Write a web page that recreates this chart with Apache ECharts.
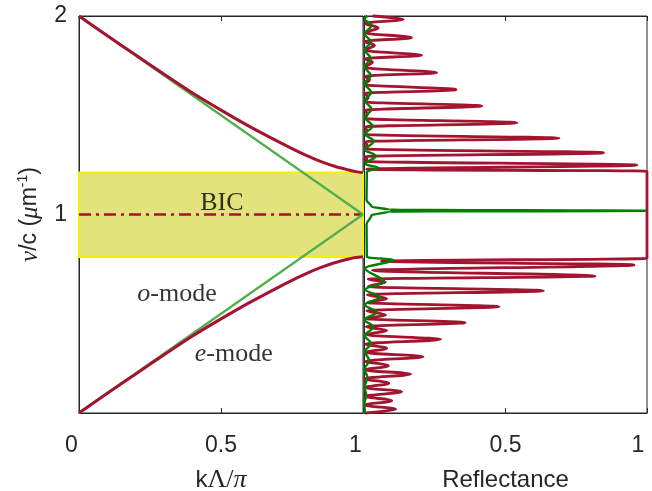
<!DOCTYPE html>
<html><head><meta charset="utf-8">
<script src="https://cdn.jsdelivr.net/npm/echarts@6/dist/echarts.min.js"></script>
<style>html,body{margin:0;padding:0;background:#fff}#c{width:652px;height:491px}</style>
</head><body><div id="c"></div>
<script>
// ---------- data: left panel (dispersion) ----------
const kVals   = [0, 0.1, 0.2, 0.3, 0.4, 0.5, 0.6, 0.7, 0.75, 0.8, 0.85, 0.9, 0.95, 0.975, 1.0];
const eLower  = [0, 0.099, 0.197, 0.294, 0.388, 0.474, 0.556, 0.632, 0.668, 0.702, 0.732, 0.757, 0.776, 0.783, 0.787];
const eUpper  = [2, 1.901, 1.803, 1.706, 1.612, 1.526, 1.444, 1.368, 1.332, 1.298, 1.268, 1.243, 1.224, 1.216, 1.211];
const oModeK     = [0, 1];
const oModeLower = [0, 1];
const oModeUpper = [2, 1];
const bicK  = [0, 1];
const bicNu = [1, 1];
const bandLow = 0.786, bandHigh = 1.211;
const annText = ['BIC', 'o-mode', 'e-mode'];
const annK    = [0.503, 0.345, 0.545];
const annNu   = [1.058, 0.598, 0.296];

// ---------- data: right panel (reflectance) ----------
const eRefNu = [0.000,0.019,0.040,0.062,0.084,0.107,0.128,0.150,0.173,0.196,0.217,0.238,0.261,0.284,0.305,0.326,0.348,0.371,0.394,0.416,0.435,0.455,0.475,0.494,0.515,0.536,0.556,0.576,0.596,0.616,0.637,0.659,0.674,0.690,0.718,0.746,0.765,0.779,
  1.218,1.228,1.249,1.268,1.280,1.292,1.311,1.331,1.350,1.367,1.384,1.404,1.423,1.442,1.462,1.484,1.505,1.526,1.547,1.568,1.590,1.610,1.629,1.654,1.679,1.697,1.714,1.741,1.768,1.785,1.802,1.827,1.852,1.872,1.891,1.915,1.940,1.962,1.983,2.000];
const eRefR  = [0.004,0.112,0.004,0.098,0.004,0.133,0.004,0.088,0.004,0.165,0.005,0.086,0.005,0.209,0.006,0.080,0.006,0.271,0.008,0.080,0.008,0.357,0.010,0.076,0.010,0.477,0.012,0.080,0.012,0.634,0.015,0.075,0.015,0.816,0.030,0.954,0.062,1.000,
  1.000,0.010,0.964,0.006,0.010,0.006,0.846,0.005,0.010,0.005,0.689,0.004,0.010,0.004,0.540,0.004,0.012,0.004,0.416,0.003,0.015,0.003,0.325,0.003,0.020,0.003,0.257,0.003,0.030,0.003,0.204,0.003,0.037,0.003,0.168,0.003,0.050,0.003,0.139,0.030];
const oRefNu = [0.000,0.050,0.090,0.130,0.180,0.220,0.265,0.310,0.350,0.390,0.433,0.470,0.508,0.545,0.584,0.622,0.661,0.729,0.772,0.785,0.950,0.997,1.0145,1.019,1.024,1.039,1.073,1.215,1.235,1.255,1.295,1.325,1.370,1.405,1.445,1.490,1.530,1.575,1.615,1.660,1.700,1.745,1.785,1.830,1.869,1.910,1.953,1.985,2.000];
const oRefR  = [0.003,0.002,0.008,0.002,0.012,0.002,0.018,0.003,0.025,0.003,0.033,0.003,0.045,0.003,0.057,0.004,0.072,0.004,0.104,0.010,0.009,0.027,0.090,1.000,0.090,0.027,0.009,0.010,0.050,0.005,0.042,0.004,0.035,0.003,0.030,0.003,0.027,0.003,0.025,0.002,0.024,0.002,0.024,0.002,0.025,0.002,0.027,0.002,0.012];

// ---------- build ----------
const pairs = (xs, ys) => xs.map((x, i) => [x, ys[i]]);
const pairsRev = (rs, nus) => rs.map((r, i) => [r, nus[i]]);
const AX = '#262626';
const SANS = 'Liberation Sans, Arial, Helvetica, sans-serif';
const SERIF = 'Liberation Serif, Times New Roman, serif';
const RED = '#a2142f';
const GREEN_L = '#52ad4b';
const GREEN_R = '#008000';
const TXT = '#000000';

const tickLbl = {color: AX, fontSize: 23, fontFamily: SANS};

function xAxisBase(grid) {
  return {
    gridIndex: grid, type: 'value', min: 0, max: 1, interval: 0.5,
    axisLine: {show: true, onZero: false, lineStyle: {color: AX, width: 1}},
    axisTick: {show: true, inside: true, length: 5, lineStyle: {color: AX, width: 1}},
    splitLine: {show: false}
  };
}

const chart = echarts.init(document.getElementById('c'), null, {renderer: 'canvas'});
const option = {
  animation: false,
  backgroundColor: '#ffffff',
  grid: [
    {left: 79, top: 16, width: 284, height: 397, show: true, borderColor: AX, borderWidth: 1, backgroundColor: 'transparent',
     containLabel: false, outerBoundsMode: 'none'},
    {left: 364, top: 16, width: 283, height: 397, show: true, borderColor: AX, borderWidth: 1, backgroundColor: 'transparent',
     containLabel: false, outerBoundsMode: 'none'}
  ],
  xAxis: [
    Object.assign(xAxisBase(0), {
      position: 'bottom',
      axisLabel: {show: true, margin: 21, showMinLabel: true, showMaxLabel: true, ...tickLbl,
        formatter: v => (v === 0 ? '{s|0}' : v === 1 ? '{s|1}' : '{c|0.5}'),
        rich: {s: {...tickLbl, padding: [0, 15, 0, 0]}, c: {...tickLbl}}},
      name: '{k|k}{g|Λ/}{i|π}', nameLocation: 'middle', nameGap: 54,
      nameTextStyle: {color: AX, rich: {
        k: {fontFamily: SANS, fontSize: 24, color: AX},
        g: {fontFamily: SERIF, fontSize: 26, color: AX},
        i: {fontFamily: SERIF, fontSize: 26, fontStyle: 'italic', color: AX}}}
    }),
    Object.assign(xAxisBase(1), {
      position: 'bottom',
      axisLabel: {show: true, margin: 21, showMinLabel: true, showMaxLabel: true, ...tickLbl,
        formatter: v => (v === 0 ? '' : v === 1 ? '{s|1}' : '{c|0.5}'),
        rich: {s: {...tickLbl, padding: [0, 18, 0, 0]}, c: {...tickLbl}}},
      name: 'Reflectance', nameLocation: 'middle', nameGap: 55,
      nameTextStyle: {color: AX, fontFamily: SANS, fontSize: 24}
    }),
    Object.assign(xAxisBase(0), {position: 'top', axisLabel: {show: false}}),
    Object.assign(xAxisBase(1), {position: 'top', axisLabel: {show: false}})
  ],
  yAxis: [
    {gridIndex: 0, type: 'value', min: 0, max: 2, interval: 1, position: 'left',
     axisLine: {show: true, onZero: false, lineStyle: {color: AX, width: 1}},
     axisTick: {show: true, inside: true, length: 5, lineStyle: {color: AX}},
     splitLine: {show: false},
     axisLabel: {show: true, margin: 12, ...tickLbl, formatter: v => (v === 0 ? '' : String(v))},
     name: '{g|ν}{s|/c (}{g|μ}{s|m}{p|-1}{s|)}', nameLocation: 'middle', nameRotate: 90, nameGap: 35,
     nameTextStyle: {color: AX, rich: {
       g: {fontFamily: SERIF, fontSize: 25, fontStyle: 'italic', color: AX, lineHeight: 28},
       s: {fontFamily: SANS, fontSize: 23, color: AX, lineHeight: 28},
       p: {fontFamily: SANS, fontSize: 14, color: AX, verticalAlign: 'top', lineHeight: 16}}}},
    {gridIndex: 1, type: 'value', min: 0, max: 2, interval: 1, position: 'left',
     axisLine: {show: true, onZero: false, lineStyle: {color: AX, width: 1}},
     axisTick: {show: false}, splitLine: {show: false}, axisLabel: {show: false}}
  ],
  series: [
    {type: 'line', xAxisIndex: 0, yAxisIndex: 0, data: pairs(bicK, bicNu), symbol: 'none', z: 3,
     lineStyle: {color: RED, width: 2.5, type: [12, 5, 3, 5]},
     markArea: {silent: true, z: 1,
       itemStyle: {color: '#e3e37d', borderColor: '#f2f200', borderWidth: 2},
       data: [[{xAxis: 0, yAxis: bandLow}, {xAxis: 1, yAxis: bandHigh}]]}},
    {type: 'line', xAxisIndex: 0, yAxisIndex: 0, data: pairs(oModeK, oModeLower), symbol: 'none', z: 4, clip: false,
     lineStyle: {color: GREEN_L, width: 2.2}},
    {type: 'line', xAxisIndex: 0, yAxisIndex: 0, data: pairs(oModeK, oModeUpper), symbol: 'none', z: 4, clip: false,
     lineStyle: {color: GREEN_L, width: 2.2}},
    {type: 'line', xAxisIndex: 0, yAxisIndex: 0, data: pairs(kVals, eLower), symbol: 'none', z: 5, clip: false,
     smooth: 0.3, lineStyle: {color: RED, width: 3}},
    {type: 'line', xAxisIndex: 0, yAxisIndex: 0, data: pairs(kVals, eUpper), symbol: 'none', z: 5, clip: false,
     smooth: 0.3, lineStyle: {color: RED, width: 3}},
    {type: 'scatter', xAxisIndex: 0, yAxisIndex: 0, symbolSize: 0, silent: true, z: 6,
     data: annText.map((t, i) => ({value: [annK[i], annNu[i]], name: t})),
     label: {show: true, position: 'inside', color: TXT, fontFamily: SERIF, fontSize: 26,
       formatter: p => p.name === 'BIC' ? 'BIC' : '{i|' + p.name[0] + '}{r|' + p.name.slice(1) + '}',
       rich: {i: {fontFamily: SERIF, fontSize: 26, fontStyle: 'italic', color: TXT},
              r: {fontFamily: SERIF, fontSize: 26, color: TXT}}}},
    {type: 'line', xAxisIndex: 1, yAxisIndex: 1, data: pairsRev(eRefR, eRefNu), symbol: 'none', z: 3, clip: false,
     smooth: 0.35, smoothMonotone: 'y', lineStyle: {color: RED, width: 2.8}},
    {type: 'line', xAxisIndex: 1, yAxisIndex: 1, data: pairsRev(oRefR, oRefNu), symbol: 'none', z: 4, clip: false,
     smooth: 0.35, smoothMonotone: 'y', lineStyle: {color: GREEN_R, width: 2.4}}
  ]
};
chart.setOption(option);
</script>
</body></html>
